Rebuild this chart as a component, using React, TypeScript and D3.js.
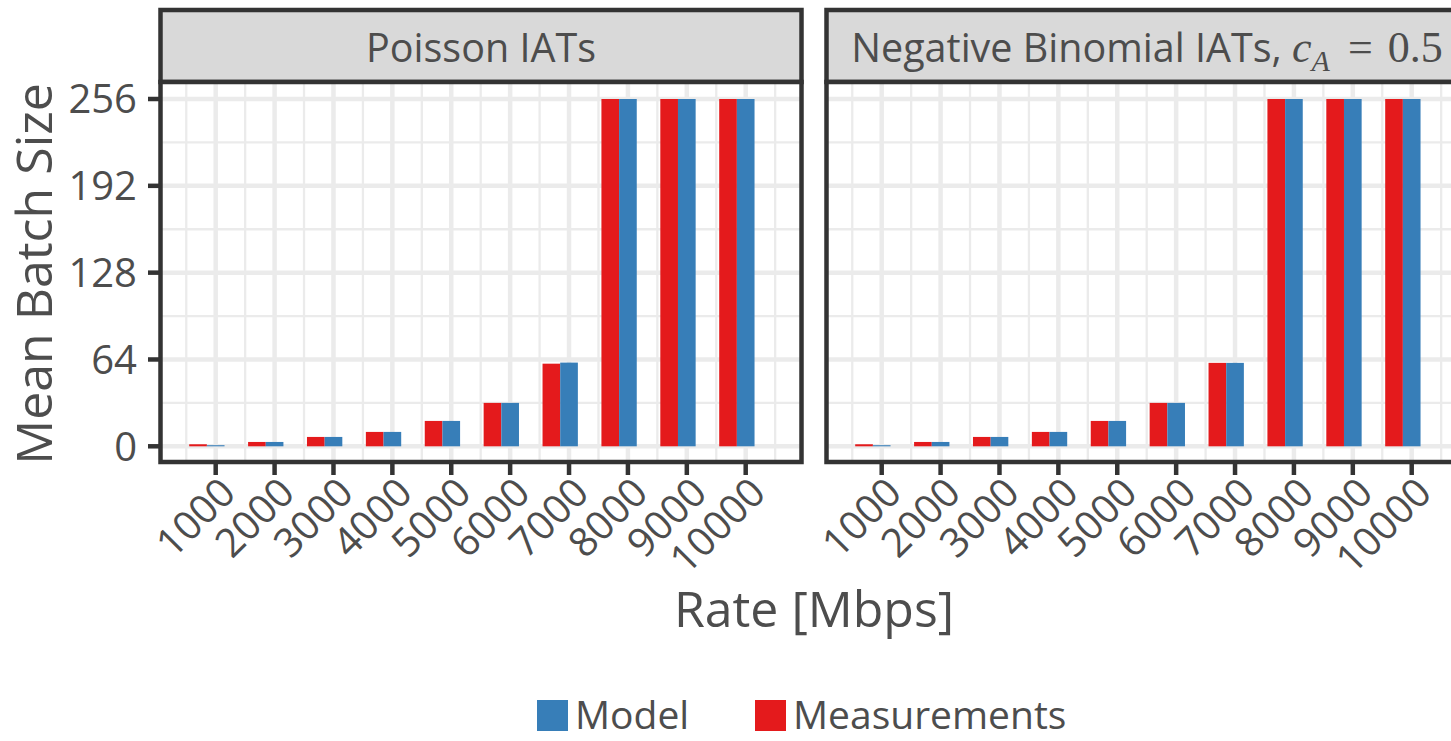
import React from "react";
import * as d3 from "d3";

const rates = [1000, 2000, 3000, 4000, 5000, 6000, 7000, 8000, 9000, 10000];
const poissonMeasurements = [1.5, 3.2, 6.9, 10.6, 18.7, 32, 60.9, 256, 256, 256];
const poissonModel = [0.8, 3.2, 6.9, 10.6, 18.7, 32, 61.7, 256, 256, 256];
const negbinMeasurements = [1.5, 3.2, 6.9, 10.6, 18.7, 32, 61.5, 256, 256, 256];
const negbinModel = [0.8, 3.2, 6.9, 10.6, 18.7, 32, 61.5, 256, 256, 256];
const yTicks = [0, 64, 128, 192, 256];
const yMinor = [32, 96, 160, 224];
const xMinor = [500, 1500, 2500, 3500, 4500, 5500, 6500, 7500, 8500, 9500, 10500];
const seriesNames = ["Model", "Measurements"];
const seriesColors = ["#377eb8", "#e41a1c"];

const FONT = "'Open Sans', 'Noto Sans', sans-serif";
const TXT = "#4d4d4d";
const DARK = "#333333";
const GRID = "#ebebeb";

const panelTop = 82;
const panelBottom = 462;
const stripTop = 10;
const panelW = 641;
const panelLefts = [160.5, 826.5];

const y = d3.scaleLinear().domain([0, 256]).range([446.3, 99]);

function Panel({ left, meas, model, title }: { left: number; meas: number[]; model: number[]; title: React.ReactNode }) {
  const x = d3.scaleLinear().domain([1000, 10000]).range([left + 55.2, left + 585.2]);
  const bw = x(1300) - x(1000);
  const right = left + panelW;
  return (
    <g>
      <rect x={left} y={stripTop} width={panelW} height={panelTop - stripTop} fill="#d9d9d9" stroke={DARK} strokeWidth={4.5} />
      <text x={left + panelW / 2} y={62} textAnchor="middle" fontFamily={FONT} fontSize={39.5} fill={TXT}>
        {title}
      </text>
      <rect x={left} y={panelTop} width={panelW} height={panelBottom - panelTop} fill="#fff" />
      <clipPath id={`clip${left}`}>
        <rect x={left} y={panelTop} width={panelW} height={panelBottom - panelTop} />
      </clipPath>
      <g clipPath={`url(#clip${left})`}>
        {yMinor.map((v) => (
          <line key={"ym" + v} x1={left} x2={right} y1={y(v)} y2={y(v)} stroke={GRID} strokeWidth={2.3} />
        ))}
        {xMinor.map((v) => (
          <line key={"xm" + v} x1={x(v)} x2={x(v)} y1={panelTop} y2={panelBottom} stroke={GRID} strokeWidth={2.3} />
        ))}
        {yTicks.map((v) => (
          <line key={"yM" + v} x1={left} x2={right} y1={y(v)} y2={y(v)} stroke={GRID} strokeWidth={4.5} />
        ))}
        {rates.map((v) => (
          <line key={"xM" + v} x1={x(v)} x2={x(v)} y1={panelTop} y2={panelBottom} stroke={GRID} strokeWidth={4.5} />
        ))}
        {rates.map((r, i) => (
          <g key={"b" + r}>
            <rect x={x(r) - bw * 1.5} width={bw} y={y(meas[i])} height={y(0) - y(meas[i])} fill={seriesColors[1]} />
            <rect x={x(r) - bw * 0.5} width={bw} y={y(model[i])} height={y(0) - y(model[i])} fill={seriesColors[0]} />
          </g>
        ))}
      </g>
      <rect x={left} y={panelTop} width={panelW} height={panelBottom - panelTop} fill="none" stroke={DARK} strokeWidth={4.5} />
      {rates.map((r) => (
        <g key={"t" + r}>
          <line x1={x(r)} x2={x(r)} y1={panelBottom} y2={475} stroke={DARK} strokeWidth={4.5} />
          <text
            transform={`translate(${x(r) + 22},${495}) rotate(-45)`}
            textAnchor="end"
            fontFamily={FONT}
            fontSize={40}
            fill={TXT}
          >
            {r}
          </text>
        </g>
      ))}
    </g>
  );
}

export default function App() {
  const mathFont = "'Liberation Serif', 'DejaVu Serif', serif";
  return (
    <svg width={1451} height={741} style={{ position: "absolute", left: 0, top: 0, background: "#fff" }}>
      <rect x={0} y={0} width={1451} height={741} fill="#fff" />
      <Panel left={panelLefts[0]} meas={poissonMeasurements} model={poissonModel} title="Poisson IATs" />
      <Panel
        left={panelLefts[1]}
        meas={negbinMeasurements}
        model={negbinModel}
        title={
          <>
            <tspan>Negative Binomial IATs, </tspan>
            <tspan fontFamily={mathFont} fontStyle="italic" fontSize={44}>c</tspan>
            <tspan fontFamily={mathFont} fontStyle="italic" fontSize={30} dy={9}>A</tspan>
            <tspan fontFamily={mathFont} fontSize={44} dy={-9} dx={18}>=</tspan>
            <tspan fontFamily={mathFont} fontSize={44} dx={15}>0.5</tspan>
          </>
        }
      />
      {yTicks.map((v) => (
        <g key={"yt" + v}>
          <line x1={148} x2={panelLefts[0]} y1={y(v)} y2={y(v)} stroke={DARK} strokeWidth={4.5} />
          <text x={137} y={y(v)} dy="0.36em" textAnchor="end" fontFamily={FONT} fontSize={40} fill={TXT}>
            {v}
          </text>
        </g>
      ))}
      <text transform={`translate(52,274) rotate(-90)`} textAnchor="middle" fontFamily={FONT} fontSize={50} fill={TXT}>
        Mean Batch Size
      </text>
      <text x={814} y={627} textAnchor="middle" fontFamily={FONT} fontSize={50} fill={TXT}>
        Rate [Mbps]
      </text>
      <rect x={537} y={700} width={31} height={31} fill={seriesColors[0]} />
      <text x={575} y={729} fontFamily={FONT} fontSize={39} fill={TXT}>
        {seriesNames[0]}
      </text>
      <rect x={755} y={700} width={31} height={31} fill={seriesColors[1]} />
      <text x={793} y={729} fontFamily={FONT} fontSize={39} fill={TXT}>
        {seriesNames[1]}
      </text>
    </svg>
  );
}
